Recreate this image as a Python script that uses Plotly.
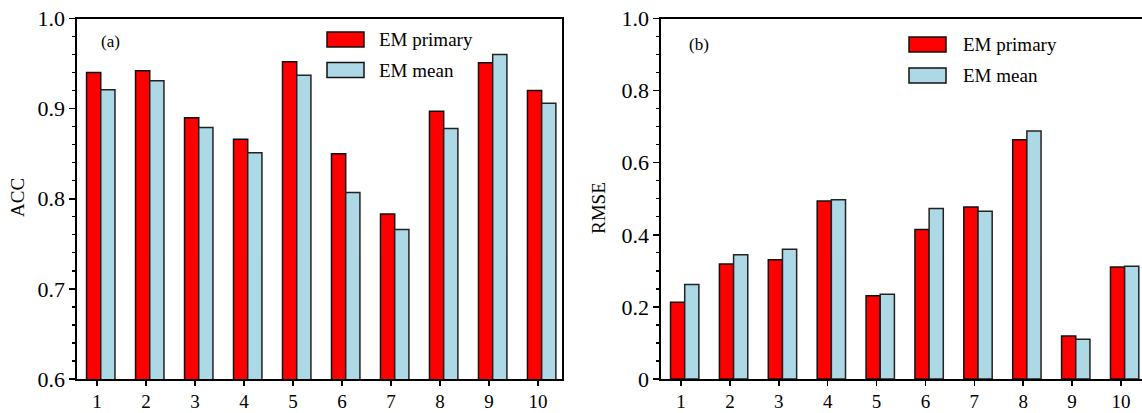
import plotly.graph_objects as go

categories = [1, 2, 3, 4, 5, 6, 7, 8, 9, 10]
acc_primary = [0.940, 0.942, 0.890, 0.866, 0.952, 0.850, 0.783, 0.897, 0.951, 0.920]
acc_mean = [0.921, 0.931, 0.879, 0.851, 0.937, 0.807, 0.766, 0.878, 0.960, 0.906]
rmse_primary = [0.213, 0.319, 0.331, 0.494, 0.231, 0.415, 0.477, 0.664, 0.119, 0.311]
rmse_mean = [0.262, 0.345, 0.360, 0.497, 0.235, 0.473, 0.465, 0.688, 0.110, 0.313]
series_names = ["EM primary", "EM mean"]
acc_ticks = [0.6, 0.7, 0.8, 0.9, 1.0]
acc_ticktext = ["0.6", "0.7", "0.8", "0.9", "1.0"]
rmse_ticks = [0, 0.2, 0.4, 0.6, 0.8, 1.0]
rmse_ticktext = ["0", "0.2", "0.4", "0.6", "0.8", "1.0"]

RED = "#FF0000"
BLUE = "#ADD8E6"
FONT = "Liberation Serif, Times New Roman, serif"
W, H = 1142, 413

fig = go.Figure()

def add_bars(xa, ya, prim, mean):
    fig.add_trace(go.Bar(x=categories, y=prim, name=series_names[0], xaxis=xa, yaxis=ya,
                         marker=dict(color=RED, line=dict(color="#111", width=1.5)),
                         width=0.29, offset=-0.215, showlegend=False))
    fig.add_trace(go.Bar(x=categories, y=mean, name=series_names[1], xaxis=xa, yaxis=ya,
                         marker=dict(color=BLUE, line=dict(color="#222", width=1.5)),
                         width=0.29, offset=0.075, showlegend=False))

add_bars("x", "y", acc_primary, acc_mean)
add_bars("x2", "y2", rmse_primary, rmse_mean)

ydom = [(H - 379) / H, (H - 18.5) / H]
axis_common = dict(showline=True, linecolor="black", linewidth=1.6, showgrid=False, zeroline=False,
                   ticks="outside", tickwidth=1.5, tickcolor="black", automargin=False)
yfont = dict(family=FONT, size=22, color="black")
xfont = dict(family=FONT, size=19, color="black")

fig.update_layout(
    template="none",
    width=W, height=H, margin=dict(l=0, r=0, t=0, b=0, autoexpand=False),
    paper_bgcolor="white", plot_bgcolor="white", barmode="overlay",
    font=dict(family=FONT, color="black"),
    xaxis=dict(domain=[77 / W, 562 / W], range=[0.59, 10.49], tickvals=categories,
               mirror=True, anchor="y", tickfont=xfont, ticklen=5, **axis_common),
    yaxis=dict(domain=ydom, range=[0.6, 1.0], tickvals=acc_ticks, ticktext=acc_ticktext,
               mirror=True, anchor="x", tickfont=yfont, ticklen=6,
               minor=dict(ticks="outside", dtick=0.02, tick0=0.6, ticklen=3.5, tickwidth=1.3,
                          tickcolor="black", showgrid=False),
               **axis_common),
    xaxis2=dict(domain=[661 / W, 1.0], range=[0.59, 10.43], tickvals=categories,
                mirror=True, anchor="y2", tickfont=xfont, ticklen=5, **axis_common),
    yaxis2=dict(domain=ydom, range=[0, 1.0], tickvals=rmse_ticks, ticktext=rmse_ticktext,
                mirror=False, anchor="x2", tickfont=yfont, ticklen=6,
                minor=dict(ticks="outside", dtick=0.05, tick0=0, ticklen=3.5, tickwidth=1.3,
                           tickcolor="black", showgrid=False),
                **axis_common),
)

def text(x, y, s, size, angle=0, xanchor="center"):
    fig.add_annotation(x=x / W, y=(H - y) / H, xref="paper", yref="paper", text=s,
                       textangle=angle, showarrow=False, xanchor=xanchor, yanchor="middle",
                       font=dict(family=FONT, size=size, color="black"))

# y-axis titles
text(17, 198, "ACC", 19, -90)
text(599, 208, "RMSE", 19, -90)

# panel labels
text(110.5, 42, "(a)", 17)
text(698.5, 44, "(b)", 17)

# legends (drawn as swatches + text)
def legend(x0, ytop1, ytop2, tx):
    for (yt, col, name) in [(ytop1, RED, series_names[0]), (ytop2, BLUE, series_names[1])]:
        fig.add_shape(type="rect", xref="paper", yref="paper",
                      x0=x0 / W, x1=(x0 + 37) / W, y0=(H - yt - 15) / H, y1=(H - yt) / H,
                      fillcolor=col, line=dict(color="#111", width=1.5))
        text(tx, yt + 7.5, name, 19, 0, "left")

legend(327, 32, 62.5, 377)
legend(909, 37, 68, 961)

fig.write_html("out.html", config={"displayModeBar": False, "staticPlot": True})

with open("out.html", "r", encoding="utf-8") as f:
    html = f.read()
html = html.replace("<head>", "<head><style>html,body{margin:0;padding:0;overflow:hidden;}</style>", 1)
with open("out.html", "w", encoding="utf-8") as f:
    f.write(html)
